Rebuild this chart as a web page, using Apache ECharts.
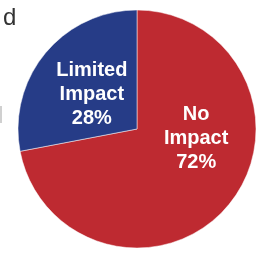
<!DOCTYPE html>
<html>
<head>
<meta charset="utf-8">
<script src="https://cdn.jsdelivr.net/npm/echarts@6/dist/echarts.min.js"></script>
<style>
  html, body { margin: 0; padding: 0; background: #fff; }
  #chart { width: 256px; height: 253px; }
</style>
</head>
<body>
<div id="chart"></div>
<script>
const categories = ['No\nImpact', 'Limited\nImpact'];
const values = [72, 28];
const colors = ['#be2a31', '#263c87'];
// nudges to place labels like the reference
const labelShift = [[11, -30], [3, 5]];

const chart = echarts.init(document.getElementById('chart'));
const option = {
  animation: false,
  graphic: [
    {
      type: 'text', left: 3, top: 6,
      style: {text: 'd', fontSize: 24, fill: '#333', fontFamily: 'Liberation Sans'}
    },
    {
      type: 'rect', shape: {x: 0, y: 106, width: 2, height: 17},
      style: {fill: '#d0d0d0'}
    }
  ],
  series: [
    {
      type: 'pie',
      center: [137, 129],
      radius: 119,
      startAngle: 90,
      clockwise: true,
      itemStyle: {borderColor: '#fff', borderWidth: 0.5},
      label: {
        show: true,
        position: 'inside',
        formatter: p => p.name + '\n' + p.value + '%',
        color: '#fff',
        fontSize: 20,
        fontWeight: 'bold',
        fontFamily: 'Liberation Sans',
        lineHeight: 24
      },
      labelLayout: p => ({dx: labelShift[p.dataIndex][0], dy: labelShift[p.dataIndex][1]}),
      labelLine: {show: false},
      emphasis: {disabled: true},
      data: categories.map((c, i) => ({name: c, value: values[i], itemStyle: {color: colors[i]}}))
    }
  ]
};
chart.setOption(option);
</script>
</body>
</html>
